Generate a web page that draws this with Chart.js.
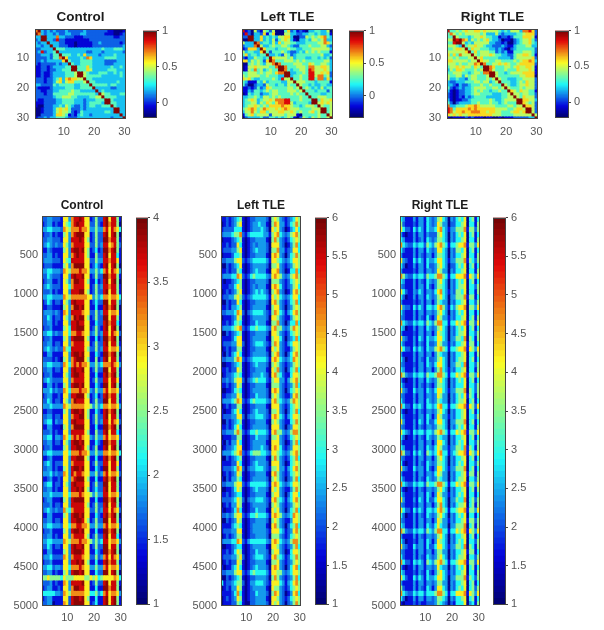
<!DOCTYPE html>
<html>
<head>
<meta charset="utf-8">
<title>Connectivity matrices</title>
<script src="https://cdn.jsdelivr.net/npm/chart.js@4/dist/chart.umd.min.js"></script>
<style>
  html, body { margin: 0; background: #fff; }
  #page { position: relative; width: 604px; height: 630px; overflow: hidden; }
  canvas { position: absolute; filter: blur(0.6px) saturate(0.85); }
</style>
</head>
<body>
<div id="page"></div>
<script>
// Every digit is a colour level, see matrixLevels and windowLevels below.
const controlMatrix = [
  "79323 23222 32222 23222 22221 10001","97323 32322 33222 33222 22211 10012","33993 33733 22211 12222 22222 21122",
  "23993 32822 11111 11122 22222 22222","32339 33322 11101 11112 23222 22212","33233 93322 21101 11112 22222 22223",
  "22333 39444 33333 33333 33433 34443","23823 34933 33333 33223 33233 33332","22333 24494 44334 36333 32333 34333",
  "22223 24479 63333 43763 33344 44333","22323 33336 94333 44443 33322 22333","21222 22323 39433 44443 33322 23333",
  "11221 23333 44994 44643 33333 43343","11221 22334 44994 44653 33334 44333","11211 23333 44459 95433 34443 34343",
  "11211 23333 44459 95444 44333 33343","22212 23463 67665 59443 33333 33333","22212 23563 56644 45944 33333 33433",
  "33222 24344 44433 44494 44443 44333","21111 23333 44433 44449 33333 22333","22112 23344 44544 33333 93433 33333",
  "22212 24444 45544 44444 39544 33344","22222 23445 55443 33344 55944 44333","21122 22334 44433 32333 44499 43333",
  "11122 22334 44433 32344 44399 44333","10022 23343 54322 32344 33444 94333","00122 23565 64222 32333 33333 39933",
  "00122 23565 54212 43333 33344 39933","00222 23665 41213 43323 33333 33393","12232 33444 32223 33333 33333 23339"
];
const leftMatrix = [
  "81205 21542 50004 62312 10334 43350","18203 32614 60005 53322 33443 43341","22993 36343 43556 63002 25454 56743",
  "00993 36343 52456 53103 34355 45733","53339 73443 53645 54433 34444 55764","23337 95334 54455 43224 44544 45532",
  "12666 39644 43444 54433 44455 55553","53443 36942 44454 32234 35454 54441","46344 34493 34325 42344 44444 45334",
  "21335 44349 65555 45344 43344 34342","66354 54269 74445 55454 54444 44553","00454 54355 79744 44555 44654 45543",
  "01556 55554 47997 44455 54775 56653","01547 45345 44997 43445 54875 55653","44555 45455 46779 93344 54885 56562",
  "54555 54454 44339 93445 44885 77452","65643 34444 54385 59445 44884 77363","43111 43534 44433 55955 54443 44441",
  "42002 33254 43443 54495 44343 34433","11212 42365 44444 55459 45434 35344","11324 43454 55444 55545 94443 44424",
  "01434 42334 55444 45454 49444 43344","33445 43554 54544 44445 44944 55544","34565 34556 57778 84445 44499 46556",
  "34455 35465 46778 85344 44399 56565","34556 54546 66676 65443 45554 95445","45676 45765 56567 65554 44455 59945",
  "35575 46645 55665 56545 44564 59945","14564 55552 55554 55510 44444 54495","02333 34224 43434 54102 54354 54459"
];
const rightMatrix = [
  "84454 56556 65655 55434 35553 77862","47545 45555 54533 35323 33344 56662","44954 44345 56544 33122 12444 66651",
  "55989 76354 54564 33201 10234 55642","44899 53435 55553 32212 00234 55643","55543 94556 55433 22232 11344 45533",
  "44566 59465 54443 32321 02344 44442","55555 56946 45554 42323 11444 55542","64647 55595 45556 54433 22455 66541",
  "55454 44559 56444 44333 32455 55562","66555 55455 96554 45544 44545 66763","55545 44557 69744 55656 54456 66662",
  "45565 65546 54997 64445 54565 56651","35466 54445 45997 54445 44465 55651","44555 44345 54779 95443 45555 66661",
  "54455 35455 44459 95444 44445 56660","53343 32455 44454 59544 33344 55552","32233 34445 54553 45944 43345 46552",
  "33213 22344 45445 44495 43345 56552","42123 23345 55544 55459 54445 45552","31012 23345 45443 44544 96546 55441",
  "21012 23345 54444 33344 59554 55442","21012 13234 44433 33344 55954 65552","31011 22344 44445 43345 55599 66553",
  "42023 33344 54445 44345 44499 65452","73344 45667 65555 54444 55455 96652","87466 66767 66666 65555 44566 59952",
  "87566 76677 76656 65544 45665 69952","65656 55666 66666 55544 44555 55595","10111 12121 11011 00101 11222 22339"
];

const controlWindows = [
  "22332 22166 37889 86612 52289 68851","12331 21165 47898 86622 52189 78850","33443 33276 57778 77633 53378 68764",
  "12231 21156 37899 96612 52289 68950","22332 22166 38889 86512 52299 78851","23432 32265 37888 86622 52388 67852",
  "11321 11156 38998 96512 41299 78951","22331 21166 37898 86511 52289 68841","23332 22165 48888 86622 53388 78861",
  "12221 11156 37999 96612 42189 68950","33443 33276 57778 77633 53478 68763","22432 22166 38988 96612 52299 78851",
  "12331 12165 37998 86511 41289 68950","23432 22166 47888 86612 52388 78851","22231 21166 38889 96512 52289 68851",
  "33443 33376 57777 77663 53477 67764","12431 22165 38988 86612 42299 68852","11221 11056 37998 96611 41189 78950",
  "23332 32176 38888 76622 52388 67761","22431 22165 37989 96512 52299 68851","22331 21166 38898 86611 42289 78841",
  "12231 11156 48899 96612 52189 68950","33442 32266 47788 76623 52388 68762","12231 11156 38999 96511 41299 78950",
  "22331 22166 37888 86612 52289 68851","23432 32275 48888 86522 52388 67762","11331 11166 38998 96611 42199 78950",
  "22221 21056 37899 96511 51289 68851","33443 33276 47878 77633 53477 78763","22331 22166 38988 96612 52299 68851",
  "12231 11165 38998 86611 41189 78951","23432 22266 37888 86612 52288 68861","11331 21156 38998 96611 42199 68950",
  "33342 32276 47778 77632 53378 67762","12331 12166 38899 96512 41289 78851","22431 22165 37988 86612 52299 68851",
  "33343 33376 57777 76653 53477 67763","11221 11156 38998 96511 42189 78950","22331 22166 37889 96512 52289 68851",
  "23441 32266 38988 86612 52388 68762","11331 11056 37999 96611 41199 78950","22231 21166 38888 86511 52289 68841",
  "33441 33276 47878 76632 53378 67762","22331 22165 38998 96611 42199 78851","12231 11156 38899 86512 51189 68950",
  "33443 33366 47778 77633 53377 67764","11231 11166 38899 96511 41189 78950","23431 22266 37888 86612 52288 68861",
  "22331 21156 38998 96611 42199 68851","33342 32276 38788 76633 52378 67762","11231 12166 37899 96511 41189 78950",
  "23441 22165 38988 86612 52299 68851","22331 21166 38898 96512 42289 68851","33343 33366 47778 76653 53388 67762",
  "12331 11056 38999 96611 41199 78950","22231 22166 38888 86512 52289 68851","23432 32275 47888 86622 52388 68762",
  "11331 11156 38998 96611 42189 78950","22331 22166 38899 86512 52299 68851","33443 33266 47788 77633 53378 67762",
  "12231 11156 38998 96611 41199 78950","22331 21166 37888 86512 52289 68841","33443 33376 57778 77653 53488 67763",
  "22431 22166 38988 96612 52299 68851","11331 11156 38999 86611 42199 78950","23342 22276 37888 76622 52378 68762",
  "12231 11166 38898 96511 41189 78851","33442 33266 47778 76633 53378 67762","22331 21156 38998 96611 42299 68950",
  "55655 55465 55666 65565 64566 66764","22231 21176 38888 96612 52289 68851","12331 12166 37998 86611 41199 78850",
  "44444 33276 57777 76644 53478 67763","12331 11166 28998 96511 41189 68951","22330 11176 28999 96612 41189 68951"
];
const leftWindows = [
  "11212 34510 12233 33205 65321 23465","01212 35610 12334 33105 76331 24575","12222 44410 12333 43206 56320 13464",
  "23334 55721 34444 43315 67432 35675","01112 34510 12233 33105 75321 24565","11212 26410 12323 33206 66320 13574",
  "12223 35610 12343 33205 57331 23664","01112 44510 12233 33106 76320 24575","22333 56621 23444 44316 65432 34665",
  "00212 34610 12333 33205 56321 23565","11212 25410 12343 33106 67320 14474","23334 47621 24544 44326 76532 35675",
  "10112 34510 12233 33205 55321 24565","11122 46510 12323 33106 76421 23564","01212 35610 12343 43205 67320 13675",
  "12233 56521 23444 44316 56432 34664","00212 26410 12233 33206 75321 24574","11213 34510 12333 33105 66320 23565",
  "22333 47620 23444 43215 76431 34675","01112 36510 12333 33206 65321 13565","11212 45410 12243 33105 57320 24474",
  "23334 56721 24454 44326 75532 35765","00212 34510 12233 33206 65321 24565","11112 46610 12333 33105 66420 23474",
  "12223 36620 12344 43215 76321 34665","01212 25510 12233 33106 56321 13565","10213 46410 12333 33205 67320 24675",
  "22333 57621 23444 44316 76432 34765","00112 34510 12343 33205 65321 23565","11212 26510 12233 33106 57320 24574",
  "01223 45410 12333 43206 75421 14665","22323 56620 23454 44215 66331 35675","11212 36510 12233 33105 55321 23574",
  "00112 45410 12333 33206 76320 24565","11223 36510 12243 33205 65321 13675","23334 57621 24544 44326 75432 35765",
  "01212 25510 12233 33106 66321 24565","10113 46410 12343 33205 56320 24574","12223 36620 23344 43216 76431 34665",
  "00212 34510 12233 33105 65321 14575","11212 46410 12333 33206 66320 23665","22333 57521 24454 44316 75532 35775",
  "01112 25510 12243 33205 56321 24565","10213 36410 12333 33106 66320 13574","01223 46610 12333 43206 76421 23665",
  "23334 56721 24555 44326 65432 35675","00212 34510 12233 33105 75321 24574","11112 26410 12343 33206 66320 14565",
  "12223 47620 23344 43215 56331 34675","01212 36510 12233 33106 75321 24565","10213 35410 12333 33205 65320 23574",
  "22333 56621 24444 44316 76432 34665","00112 46510 12343 33206 56321 13575","11212 34410 12233 33105 66320 24664",
  "22223 46520 23344 43216 75431 34675","01213 36510 12333 33205 65321 23565","10112 47410 12243 33106 56320 24574",
  "22323 56621 24454 44316 76532 34765","00212 36510 12233 33205 65321 13665","11113 45410 12333 33106 75320 24574",
  "12223 36610 12333 33216 66431 23675","01212 35510 12233 33205 55321 24565","23334 47621 34444 44326 76432 35775",
  "00112 34410 12333 33106 65321 23574","11212 46510 12243 33205 66320 14665","12223 35620 12344 43216 75431 24575",
  "01212 26510 12233 33105 56321 23565","10113 46410 12343 33206 76320 24674","22333 56621 24544 44316 65532 34665",
  "00212 34510 12233 33205 75321 23574","41223 45520 13344 43216 66431 34675","01213 36510 12333 33106 55321 24565",
  "11112 47410 12243 33205 76320 13674","01212 36510 12233 33106 65321 24565","01112 25410 02233 33206 56320 23575"
];
const rightWindows = [
  "43111 31331 43235 64303 24546 04514","52111 21331 43236 53302 24456 04415","64221 42431 43346 74313 35557 15525",
  "31011 31331 32225 64303 24546 04514","43111 31231 43235 54303 24456 04415","74322 43442 54356 75414 45667 15536",
  "42111 31331 43236 64303 25546 04514","31111 31321 33135 54303 24456 04415","63211 42431 43346 64313 35557 15425",
  "42011 31331 42235 64302 24546 04514","31111 21331 33236 53303 24456 04415","75322 43442 54457 75414 46667 16536",
  "43111 31321 43235 64303 24546 04514","32111 31331 42135 54303 24556 04425","64211 32431 33246 74313 25546 04415",
  "42011 31331 43235 64303 35557 15514","31111 21231 33135 43303 24456 04425","63221 42431 44346 75314 35667 05536",
  "42111 31331 33235 64303 24546 04414","32111 31321 42136 53313 24456 04515","74322 43442 54357 74414 46567 15526",
  "43011 31331 43235 64303 24546 04514","31111 21331 33136 54303 24556 04425","63211 31431 43346 64303 35547 05415",
  "42111 31321 42236 53313 24456 15514","64221 42431 43356 75414 45667 16536","31111 31331 33135 43303 24456 04415",
  "42011 31321 42235 64303 24556 04514","32111 21331 43246 64303 35547 04425","43111 31331 33135 74313 24456 04415",
  "75322 43442 54457 75414 46567 15536","31011 31331 43235 64303 24546 04514","42111 31321 32135 54303 24446 04425",
  "63211 42331 43246 64313 35557 05425","32111 31331 33236 53303 24546 15415","42111 31331 43235 43303 24556 04514",
  "74221 43431 44346 74414 45667 16526","31011 31321 33235 64303 24456 04514","42111 21331 43136 53313 24456 04425",
  "63111 31431 42246 64303 35557 04514","32111 31321 33235 54303 24546 04415","64321 43442 44356 75414 46567 15536",
  "42011 31321 43235 43303 24456 04514","31111 21331 33136 64303 24546 04425","43111 31331 43246 53313 35547 15415",
  "75221 42431 54346 74413 45667 16536","32111 31331 33135 64303 24456 04514","41011 31321 43235 54303 24546 04425",
  "63211 42331 42136 64313 35557 04514","31111 31331 33246 53303 24456 15515","42111 31321 43235 43303 24556 04425",
  "74322 43442 54457 75414 46567 15536","31011 31321 33235 64303 24456 04515","42111 21331 43136 53313 24546 04414",
  "63111 31431 42246 64303 35447 04525","32111 21331 33135 74303 24556 04515","64221 42431 44346 75414 45667 15536",
  "42011 31321 43235 64303 24546 04414","32111 31331 33136 53313 24456 15525","43111 31331 43246 43303 35557 04515",
  "75322 43442 54357 74414 46567 16536","31111 31321 33235 64303 24456 04514","42011 21331 43136 54303 24546 04425",
  "63211 42331 42246 64313 35547 05415","32111 31331 33135 53303 24456 15514","42111 31321 43235 64303 24556 04425",
  "74221 43431 54356 75414 45667 15526","31011 31331 33236 43303 24546 04514","43111 21321 42135 64313 24456 04415",
  "64211 42431 43346 64303 35557 15425","31111 31331 33235 53303 24456 04514","52111 31321 43136 64303 24546 04525",
  "74322 43442 44457 75414 46667 16536","42011 31331 33235 54303 24456 04514","10111 21211 22235 43202 14446 03415"
];

// where each digit sits on the colorbar, 0 = bottom, 1 = top
const matrixLevels = [0.03, 0.12, 0.22, 0.32, 0.44, 0.55, 0.66, 0.76, 0.88, 0.98];
const windowLevels = [0.04, 0.14, 0.22, 0.28, 0.38, 0.5, 0.64, 0.74, 0.9, 0.97];

const cellLabels = ["1","2","3","4","5","6","7","8","9","10","11","12","13","14","15","16","17","18","19","20","21","22","23","24","25","26","27","28","29","30"];
const xTickLabels = ["10", "20", "30"];
const matrixTicks = [10, 20, 30];
const windowTicks = [500, 1000, 1500, 2000, 2500, 3000, 3500, 4000, 4500, 5000];
const matrixBarTicks = [0, 0.5, 1];
const controlBarTicks = [1, 1.5, 2, 2.5, 3, 3.5, 4];
const tleBarTicks = [1, 1.5, 2, 2.5, 3, 3.5, 4, 4.5, 5, 5.5, 6];

Chart.defaults.font.family = "'Liberation Sans', Arial, sans-serif";
Chart.defaults.font.size = 11;
Chart.defaults.color = "#555";
Chart.defaults.animation = false;
Chart.defaults.events = [];
Chart.defaults.plugins.legend.display = false;
Chart.defaults.plugins.tooltip.enabled = false;

// matlab jet colormap, t from 0 to 1
const jet = (t) => {
    const c = (v) => Math.round(255 * Math.max(0, Math.min(1, v)));
    return `rgb(${c(1.5 - Math.abs(4 * t - 3))},${c(1.5 - Math.abs(4 * t - 2))},${c(1.5 - Math.abs(4 * t - 1))})`;
};

// thin box round the plot, matlab style
const framePlugin = {
    id: "frame",
    afterDatasetsDraw(chart) {
        const { ctx, chartArea: a } = chart;
        ctx.save();
        ctx.strokeStyle = "#444";
        ctx.lineWidth = 1;
        ctx.strokeRect(Math.round(a.left) + 0.5, Math.round(a.top) + 0.5, Math.round(a.width) - 1, Math.round(a.height) - 1);
        ctx.restore();
    }
};

const addCanvas = (left, top, width, height) => {
    const canvas = document.createElement("canvas");
    canvas.width = width;
    canvas.height = height;
    canvas.style.left = left + "px";
    canvas.style.top = top + "px";
    document.getElementById("page").appendChild(canvas);
    return canvas;
};

const drawHeatmap = (p) => {
    const rowValues = p.rows.map((r) => r.replace(/ /g, "").split("").map((d) => p.min + p.levels[Number(d)] * (p.max - p.min)));
    const rowSize = (p.yMax - p.yMin) / rowValues.length;

    const datasets = rowValues.map((values, i) => ({
        data: values.map(() => [p.yMin + i * rowSize, p.yMin + (i + 1) * rowSize]),
        backgroundColor: values.map((v) => jet((v - p.min) / (p.max - p.min))),
        grouped: false,
        barPercentage: 1,
        categoryPercentage: 1,
        borderWidth: 0,
        inflateAmount: 0.4
    }));

    const canvas = addCanvas(p.x - 40, p.y - p.titleHeight, 40 + p.w + 12, p.titleHeight + p.h + 24);
    new Chart(canvas, {
        type: "bar",
        data: { labels: cellLabels, datasets: datasets },
        options: {
            responsive: false,
            layout: { padding: { right: 12 } },
            plugins: {
                title: {
                    display: true,
                    text: p.title,
                    fullSize: false,
                    color: "#1c1c1c",
                    font: { size: p.titleSize, weight: "bold", lineHeight: 1.2 },
                    padding: { top: p.titleHeight - p.titleSize * 1.2 - p.titleGap, bottom: p.titleGap }
                }
            },
            scales: {
                x: {
                    type: "category",
                    grid: { display: false, drawTicks: false, tickLength: 0 },
                    border: { display: false },
                    ticks: {
                        autoSkip: false,
                        maxRotation: 0,
                        minRotation: 0,
                        padding: p.xTickGap,
                        callback: (v, i) => xTickLabels.includes(cellLabels[i]) ? cellLabels[i] : ""
                    },
                    afterFit: (scale) => { scale.height = 24; }
                },
                y: {
                    type: "linear",
                    reverse: true,
                    min: p.yMin,
                    max: p.yMax,
                    grid: { display: false, drawTicks: false, tickLength: 0 },
                    border: { display: false },
                    ticks: { padding: p.yTickGap, callback: (v) => String(v) },
                    afterBuildTicks: (scale) => { scale.ticks = p.yTicks.map((v) => ({ value: v })); },
                    afterFit: (scale) => { scale.width = 40; }
                }
            }
        },
        plugins: [framePlugin]
    });
};

const drawColorbar = (p) => {
    const levels = 64;
    const datasets = [];
    for (let i = 0; i < levels; i++) {
        datasets.push({
            data: [[p.min + i * (p.max - p.min) / levels, p.min + (i + 1) * (p.max - p.min) / levels]],
            backgroundColor: jet((i + 0.5) / levels),
            grouped: false,
            barPercentage: 1,
            categoryPercentage: 1,
            borderWidth: 0,
            inflateAmount: 0.4
        });
    }

    const canvas = addCanvas(p.x, p.y - 8, p.w + 32, p.h + 16);
    new Chart(canvas, {
        type: "bar",
        data: { labels: [""], datasets: datasets },
        options: {
            responsive: false,
            layout: { padding: { top: 8, bottom: 8 } },
            scales: {
                x: { display: false },
                y: {
                    type: "linear",
                    position: "right",
                    min: p.min,
                    max: p.max,
                    grid: { display: true, drawOnChartArea: false, drawTicks: true, tickLength: 2, color: "#444" },
                    border: { display: false },
                    ticks: { padding: 3, callback: (v) => String(v) },
                    afterBuildTicks: (scale) => { scale.ticks = p.ticks.map((v) => ({ value: v })); },
                    afterFit: (scale) => { scale.width = 32; }
                }
            }
        },
        plugins: [framePlugin]
    });
};

const matrixStyle = { y: 29, w: 91, h: 90, yMin: 0.5, yMax: 30.5, yTicks: matrixTicks, levels: matrixLevels, titleHeight: 22, titleSize: 13.5, titleGap: 4, xTickGap: 6, yTickGap: 6 };
const windowStyle = { y: 216, w: 80, h: 390, yMin: 0, yMax: 5000, yTicks: windowTicks, levels: windowLevels, titleHeight: 20, titleSize: 12, titleGap: 3, xTickGap: 5, yTickGap: 4 };

drawHeatmap({ ...matrixStyle, title: "Control", x: 35, rows: controlMatrix, min: -0.2, max: 1 });
drawHeatmap({ ...matrixStyle, title: "Left TLE", x: 242, rows: leftMatrix, min: -0.33, max: 1 });
drawHeatmap({ ...matrixStyle, title: "Right TLE", x: 447, rows: rightMatrix, min: -0.21, max: 1 });
drawColorbar({ x: 143, y: 29, w: 14, h: 90, min: -0.2, max: 1, ticks: matrixBarTicks });
drawColorbar({ x: 349, y: 29, w: 15, h: 90, min: -0.33, max: 1, ticks: matrixBarTicks });
drawColorbar({ x: 555, y: 29, w: 14, h: 90, min: -0.21, max: 1, ticks: matrixBarTicks });

drawHeatmap({ ...windowStyle, title: "Control", x: 42, rows: controlWindows, min: 1, max: 4 });
drawHeatmap({ ...windowStyle, title: "Left TLE", x: 221, rows: leftWindows, min: 1, max: 6 });
drawHeatmap({ ...windowStyle, title: "Right TLE", x: 400, rows: rightWindows, min: 1, max: 6 });
drawColorbar({ x: 136, y: 216, w: 12, h: 390, min: 1, max: 4, ticks: controlBarTicks });
drawColorbar({ x: 315, y: 216, w: 12, h: 390, min: 1, max: 6, ticks: tleBarTicks });
drawColorbar({ x: 493, y: 216, w: 13, h: 390, min: 1, max: 6, ticks: tleBarTicks });
</script>
</body>
</html>
